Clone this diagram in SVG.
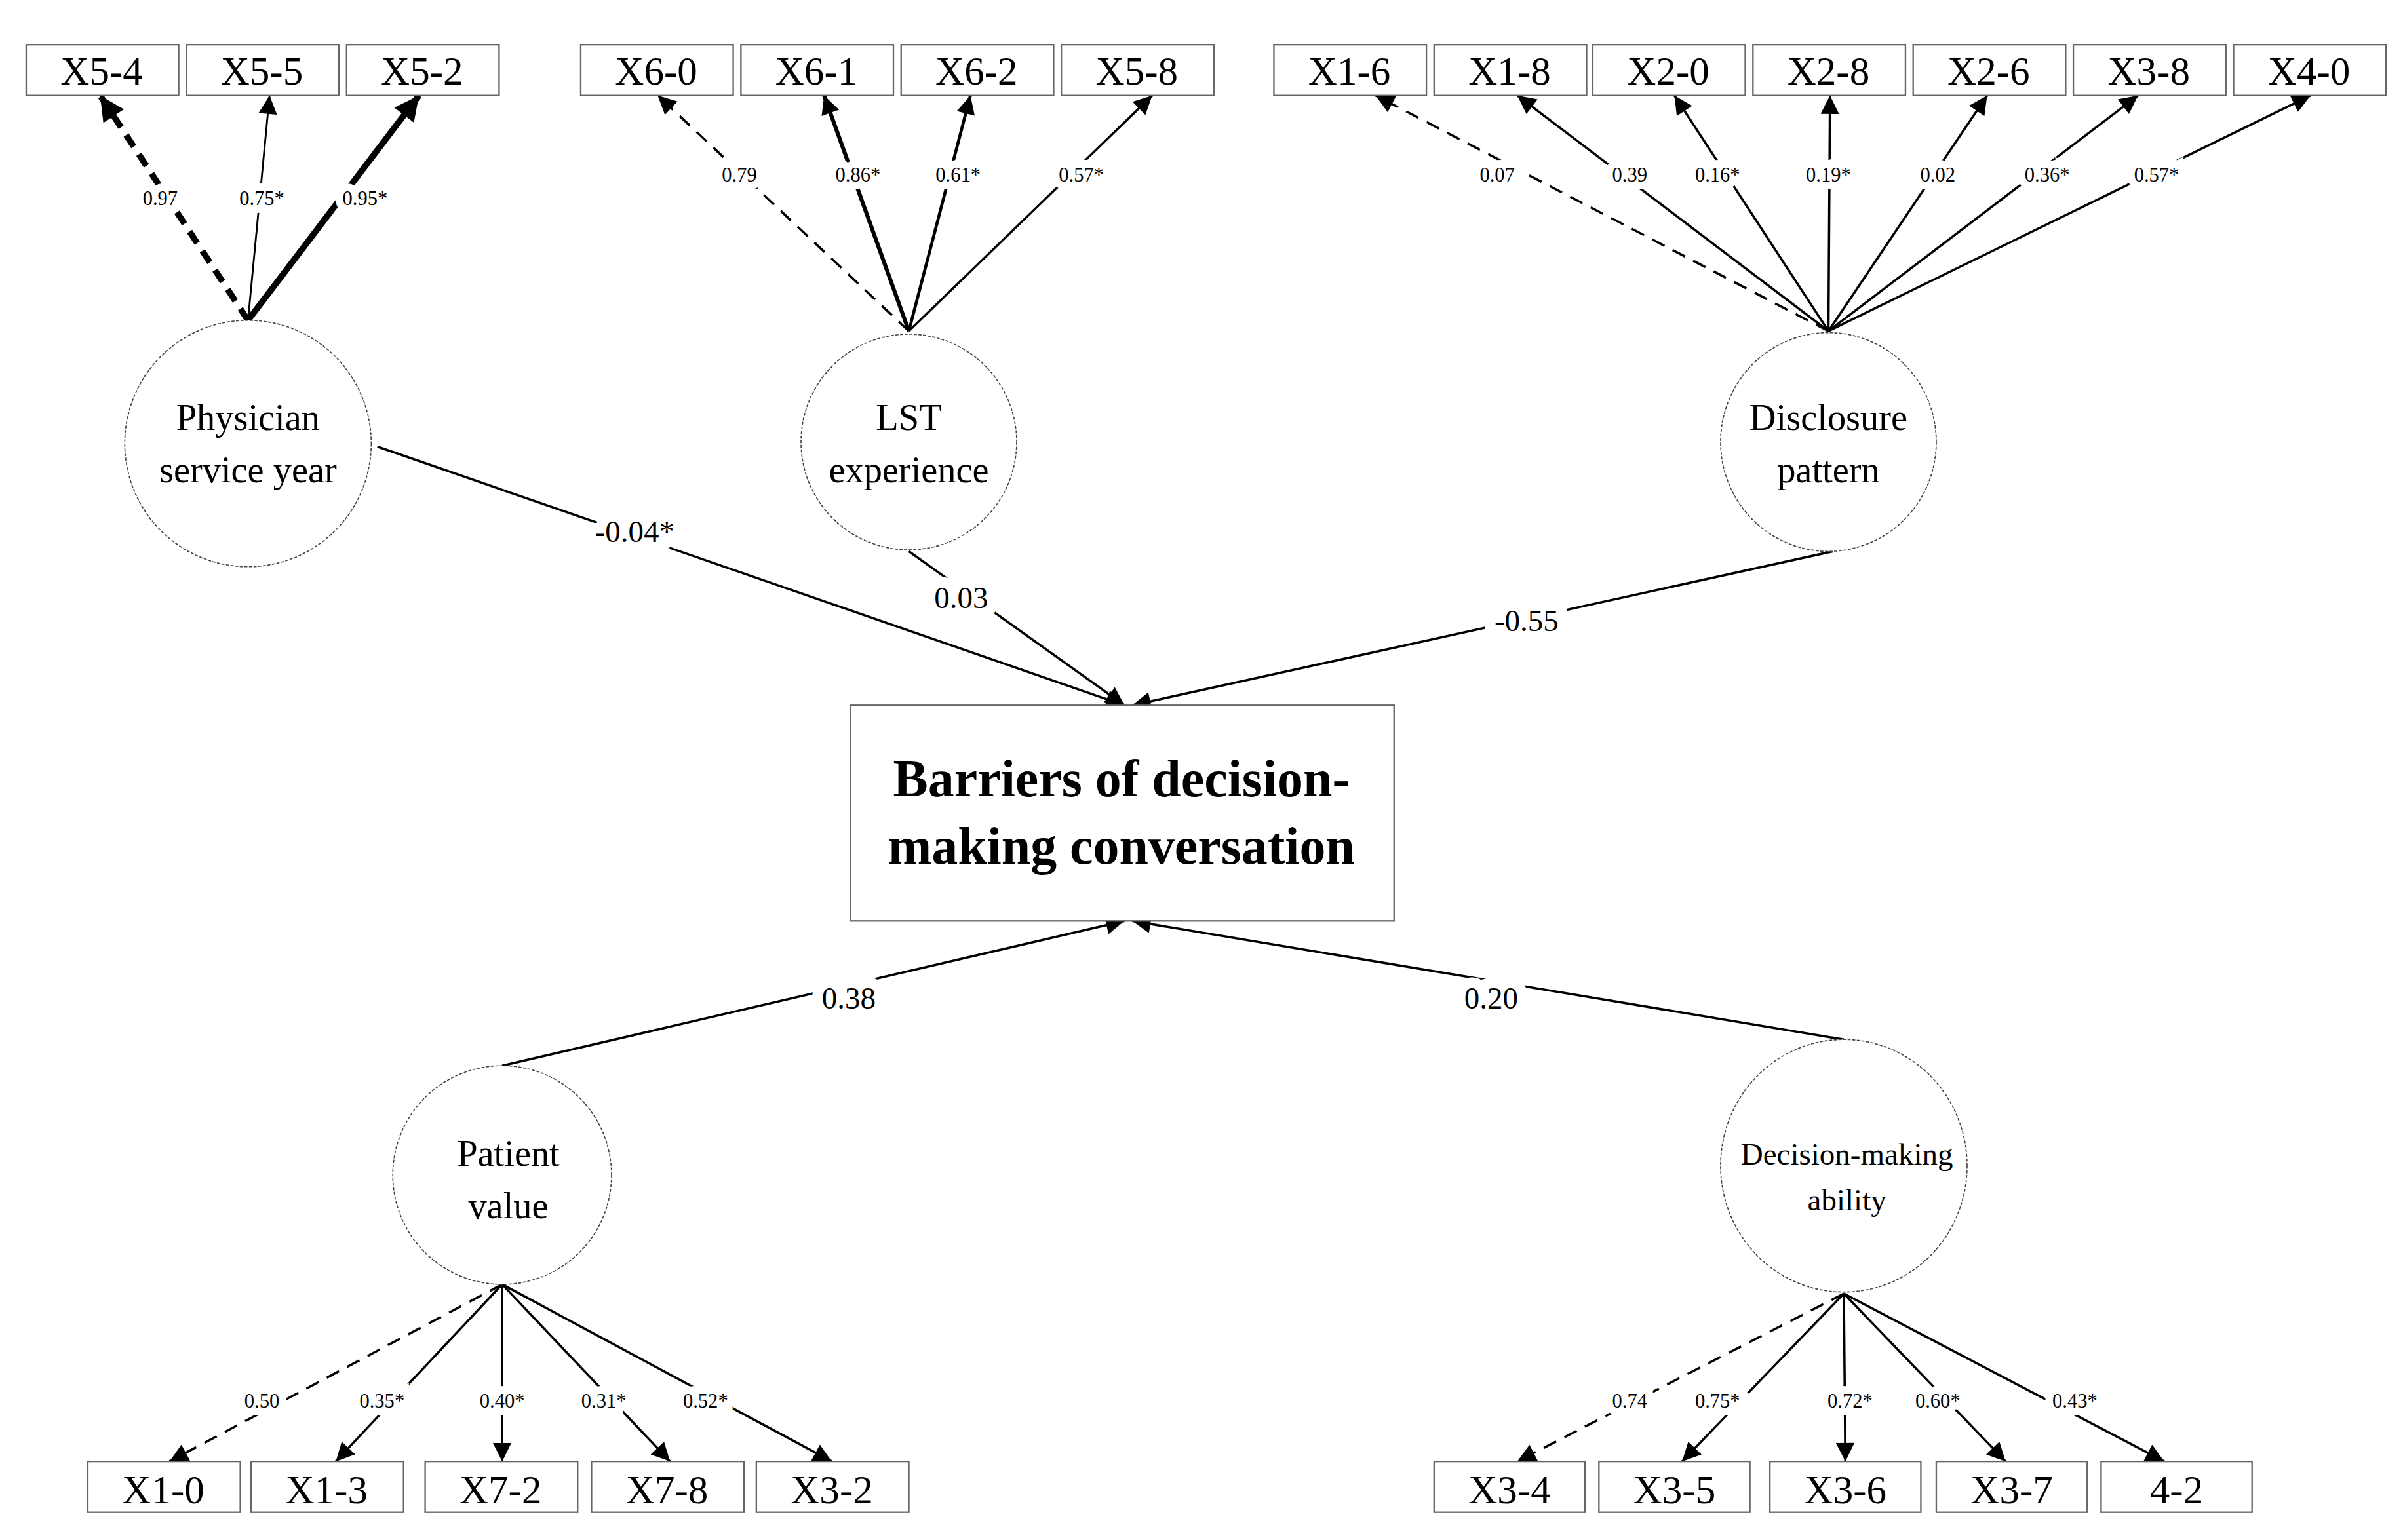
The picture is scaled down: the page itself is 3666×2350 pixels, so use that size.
<svg xmlns="http://www.w3.org/2000/svg" width="3666" height="2350" viewBox="0 0 3666 2350">
<defs>
<style>
.box{fill:#fff;stroke:#666;stroke-width:1}
.ell{fill:#fff;stroke:#444;stroke-width:0.7;stroke-dasharray:2 1}
.bt{font-family:"Liberation Serif",serif;font-size:26px;text-anchor:middle}
.nt{font-family:"Liberation Serif",serif;font-size:24px;text-anchor:middle}
.lb{font-family:"Liberation Serif",serif;font-size:13px;text-anchor:middle;stroke:#fff;stroke-width:10;paint-order:stroke;fill:#000}
.pl{font-family:"Liberation Serif",serif;font-size:20px;text-anchor:middle;stroke:#fff;stroke-width:14;paint-order:stroke;fill:#000}
.c{stroke:#000;fill:none;stroke-width:1.5;marker-end:url(#a)}
.d{stroke-dasharray:9 6}
</style>
<marker id="a" viewBox="0 0 10 10" refX="10" refY="5" markerWidth="14" markerHeight="12" markerUnits="userSpaceOnUse" orient="auto"><path d="M0,0L10,5L0,10z"/></marker>
<marker id="b" viewBox="0 0 10 10" refX="10" refY="5" markerWidth="18" markerHeight="16" markerUnits="userSpaceOnUse" orient="auto"><path d="M0,0L10,5L0,10z"/></marker>
</defs>
<rect width="3666" height="2350" fill="#fff"/>
<g transform="scale(2.35)">
<g id="connectors">
<line class="c d" x1="161" y1="208" x2="65" y2="62" style="stroke-width:4;marker-end:url(#b)"/>
<line class="c" x1="161" y1="208" x2="175" y2="62" style="stroke-width:1.2"/>
<line class="c" x1="161" y1="208" x2="272" y2="62" style="stroke-width:4;marker-end:url(#b)"/>
<line class="c d" x1="590" y1="215" x2="427" y2="62"/>
<line class="c" x1="590" y1="215" x2="535" y2="62" style="stroke-width:2.6"/>
<line class="c" x1="590" y1="215" x2="630" y2="62" style="stroke-width:2"/>
<line class="c" x1="590" y1="215" x2="748" y2="62"/>
<line class="c d" x1="1187" y1="215" x2="893" y2="62"/>
<line class="c" x1="1187" y1="215" x2="985" y2="62"/>
<line class="c" x1="1187" y1="215" x2="1087" y2="62"/>
<line class="c" x1="1187" y1="215" x2="1188" y2="62"/>
<line class="c" x1="1187" y1="215" x2="1290" y2="62"/>
<line class="c" x1="1187" y1="215" x2="1388" y2="62"/>
<line class="c" x1="1187" y1="215" x2="1500" y2="62"/>
<line class="c" x1="245" y1="290" x2="730" y2="458"/>
<line class="c" x1="590" y1="358" x2="730" y2="458"/>
<line class="c" x1="1190" y1="358" x2="735" y2="458"/>
<line class="c" x1="326" y1="692" x2="730" y2="598"/>
<line class="c" x1="1197" y1="675" x2="735" y2="598"/>
<line class="c d" x1="326" y1="834" x2="110" y2="949"/>
<line class="c" x1="326" y1="834" x2="218" y2="949"/>
<line class="c" x1="326" y1="834" x2="326" y2="949"/>
<line class="c" x1="326" y1="834" x2="435" y2="949"/>
<line class="c" x1="326" y1="834" x2="540" y2="949"/>
<line class="c d" x1="1197" y1="840" x2="985" y2="949"/>
<line class="c" x1="1197" y1="840" x2="1092" y2="949"/>
<line class="c" x1="1197" y1="840" x2="1198" y2="949"/>
<line class="c" x1="1197" y1="840" x2="1302" y2="949"/>
<line class="c" x1="1197" y1="840" x2="1405" y2="949"/>
<text class="lb" x="104" y="133">0.97</text><text class="lb" x="170" y="133">0.75*</text><text class="lb" x="237" y="133">0.95*</text>
<text class="lb" x="480" y="118">0.79</text><text class="lb" x="557" y="118">0.86*</text><text class="lb" x="622" y="118">0.61*</text><text class="lb" x="702" y="118">0.57*</text>
<text class="lb" x="972" y="118">0.07</text><text class="lb" x="1058" y="118">0.39</text><text class="lb" x="1115" y="118">0.16*</text><text class="lb" x="1187" y="118">0.19*</text><text class="lb" x="1258" y="118">0.02</text><text class="lb" x="1329" y="118">0.36*</text><text class="lb" x="1400" y="118">0.57*</text>
<text class="lb" x="170" y="914">0.50</text><text class="lb" x="248" y="914">0.35*</text><text class="lb" x="326" y="914">0.40*</text><text class="lb" x="392" y="914">0.31*</text><text class="lb" x="458" y="914">0.52*</text>
<text class="lb" x="1058" y="914">0.74</text><text class="lb" x="1115" y="914">0.75*</text><text class="lb" x="1201" y="914">0.72*</text><text class="lb" x="1258" y="914">0.60*</text><text class="lb" x="1347" y="914">0.43*</text>
<text class="pl" x="412" y="352">-0.04*</text>
<text class="pl" x="624" y="395">0.03</text>
<text class="pl" x="991" y="410">-0.55</text>
<text class="pl" x="551" y="655">0.38</text>
<text class="pl" x="968" y="655">0.20</text>
</g>
<g id="n-x54"><rect class="box" x="17" y="29" width="99" height="33"/><text class="bt" x="66" y="55">X5-4</text></g>
<g id="n-x55"><rect class="box" x="121" y="29" width="99" height="33"/><text class="bt" x="170" y="55">X5-5</text></g>
<g id="n-x52"><rect class="box" x="225" y="29" width="99" height="33"/><text class="bt" x="274" y="55">X5-2</text></g>
<g id="n-x60"><rect class="box" x="377" y="29" width="99" height="33"/><text class="bt" x="426" y="55">X6-0</text></g>
<g id="n-x61"><rect class="box" x="481" y="29" width="99" height="33"/><text class="bt" x="530" y="55">X6-1</text></g>
<g id="n-x62"><rect class="box" x="585" y="29" width="99" height="33"/><text class="bt" x="634" y="55">X6-2</text></g>
<g id="n-x58"><rect class="box" x="689" y="29" width="99" height="33"/><text class="bt" x="738" y="55">X5-8</text></g>
<g id="n-x16"><rect class="box" x="827" y="29" width="99" height="33"/><text class="bt" x="876" y="55">X1-6</text></g>
<g id="n-x18"><rect class="box" x="931" y="29" width="99" height="33"/><text class="bt" x="980" y="55">X1-8</text></g>
<g id="n-x20"><rect class="box" x="1034" y="29" width="99" height="33"/><text class="bt" x="1083" y="55">X2-0</text></g>
<g id="n-x28"><rect class="box" x="1138" y="29" width="99" height="33"/><text class="bt" x="1187" y="55">X2-8</text></g>
<g id="n-x26"><rect class="box" x="1242" y="29" width="99" height="33"/><text class="bt" x="1291" y="55">X2-6</text></g>
<g id="n-x38"><rect class="box" x="1346" y="29" width="99" height="33"/><text class="bt" x="1395" y="55">X3-8</text></g>
<g id="n-x40"><rect class="box" x="1450" y="29" width="99" height="33"/><text class="bt" x="1499" y="55">X4-0</text></g>
<g id="n-psy"><ellipse class="ell" cx="161" cy="288" rx="80" ry="80"/><text class="nt" x="161" y="279">Physician</text><text class="nt" x="161" y="313">service year</text></g>
<g id="n-lst"><ellipse class="ell" cx="590" cy="287" rx="70" ry="70"/><text class="nt" x="590" y="279">LST</text><text class="nt" x="590" y="313">experience</text></g>
<g id="n-dp"><ellipse class="ell" cx="1187" cy="287" rx="70" ry="71"/><text class="nt" x="1187" y="279">Disclosure</text><text class="nt" x="1187" y="313">pattern</text></g>
<g id="n-bar"><rect class="box" x="552" y="458" width="353" height="140"/><text x="728" y="517" style="font-family:'Liberation Serif',serif;font-size:34px;font-weight:bold;text-anchor:middle">Barriers of decision-</text><text x="728" y="561" style="font-family:'Liberation Serif',serif;font-size:34px;font-weight:bold;text-anchor:middle">making conversation</text></g>
<g id="n-pv"><ellipse class="ell" cx="326" cy="763" rx="71" ry="71"/><text class="nt" x="330" y="757">Patient</text><text class="nt" x="330" y="791">value</text></g>
<g id="n-dm"><ellipse class="ell" cx="1197" cy="757" rx="80" ry="82"/><text class="nt" x="1199" y="756" style="font-size:20px">Decision-making</text><text class="nt" x="1199" y="786" style="font-size:20px">ability</text></g>
<g id="n-x10"><rect class="box" x="57" y="949" width="99" height="33"/><text class="bt" x="106" y="976">X1-0</text></g>
<g id="n-x13"><rect class="box" x="163" y="949" width="99" height="33"/><text class="bt" x="212" y="976">X1-3</text></g>
<g id="n-x72"><rect class="box" x="276" y="949" width="99" height="33"/><text class="bt" x="325" y="976">X7-2</text></g>
<g id="n-x78"><rect class="box" x="384" y="949" width="99" height="33"/><text class="bt" x="433" y="976">X7-8</text></g>
<g id="n-x32"><rect class="box" x="491" y="949" width="99" height="33"/><text class="bt" x="540" y="976">X3-2</text></g>
<g id="n-x34"><rect class="box" x="931" y="949" width="98" height="33"/><text class="bt" x="980" y="976">X3-4</text></g>
<g id="n-x35"><rect class="box" x="1038" y="949" width="98" height="33"/><text class="bt" x="1087" y="976">X3-5</text></g>
<g id="n-x36"><rect class="box" x="1149" y="949" width="98" height="33"/><text class="bt" x="1198" y="976">X3-6</text></g>
<g id="n-x37"><rect class="box" x="1257" y="949" width="98" height="33"/><text class="bt" x="1306" y="976">X3-7</text></g>
<g id="n-42"><rect class="box" x="1364" y="949" width="98" height="33"/><text class="bt" x="1413" y="976">4-2</text></g>
</g>
</svg>
